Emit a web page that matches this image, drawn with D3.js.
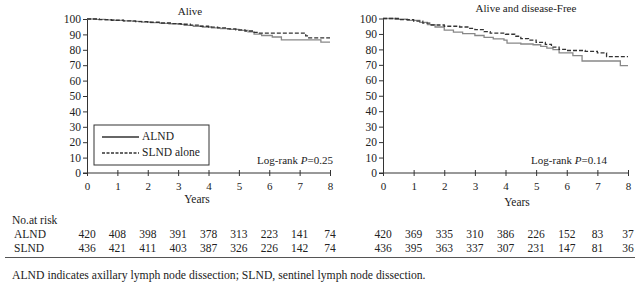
<!DOCTYPE html>
<html>
<head>
<meta charset="utf-8">
<script src="https://cdn.jsdelivr.net/npm/d3@7"></script>
<style>
  body { margin: 0; background: #fff; }
  svg text { font-family: "Liberation Serif", "DejaVu Serif", serif; fill: #222; }
</style>
</head>
<body>
<div id="chart"></div>
<script>
let svgWidth = 640;
let svgHeight = 284;

// years axis
let yearTicks = [0, 1, 2, 3, 4, 5, 6, 7, 8];
let pctTicks = [0, 10, 20, 30, 40, 50, 60, 70, 80, 90, 100];

// Kaplan-Meier steps: [year, percent]
let aliveALND = [[0, 100], [0.3, 99.7], [0.6, 99.4], [0.9, 99.1], [1.2, 98.8], [1.5, 98.4], [1.8, 98], [2.1, 97.6],
    [2.4, 97.2], [2.7, 96.9], [3.0, 96.5], [3.2, 95.8], [3.5, 95.3], [3.8, 94.8], [4.1, 94.3], [4.4, 93.8],
    [4.7, 93.3], [5.0, 92.6], [5.3, 91.7], [5.5, 90.2], [5.75, 89.3], [6.1, 88.3], [6.4, 86.5], [7.7, 85], [8, 85]];
let aliveSLND = [[0, 100], [0.4, 99.6], [0.8, 99.2], [1.2, 98.8], [1.6, 98.3], [2.0, 97.9], [2.4, 97.4], [2.8, 97],
    [3.1, 96.6], [3.4, 96], [3.7, 95.3], [4.0, 94.7], [4.3, 94.2], [4.6, 93.6], [4.9, 93], [5.2, 92.2],
    [5.5, 91.3], [5.6, 90.8], [7.2, 89], [7.3, 87.8], [8, 87.8]];
let dfsALND = [[0, 100], [0.4, 99.5], [0.8, 98.8], [1.2, 97.5], [1.45, 96], [1.7, 94.5], [2.0, 92.5], [2.3, 91.2],
    [2.6, 90.2], [3.0, 89], [3.3, 87.8], [3.6, 86.8], [3.95, 86], [4.05, 84], [4.5, 83.5], [4.9, 83],
    [5.15, 82], [5.35, 80.8], [5.55, 79.8], [5.75, 77.8], [6.2, 76], [6.5, 72.5], [7.75, 69.5], [8, 69.5]];
let dfsSLND = [[0, 100], [0.5, 99.3], [1.0, 98.3], [1.3, 97], [1.55, 95.8], [2.0, 95], [2.5, 94.5], [2.8, 93.6],
    [3.0, 92.8], [3.3, 91.5], [3.5, 90.5], [4.0, 89.8], [4.3, 88.5], [4.5, 87], [4.75, 86], [5.0, 84.5],
    [5.3, 83.3], [5.5, 81.5], [5.75, 80], [6.0, 79.3], [6.6, 78.7], [7.0, 77.7], [7.3, 75.3], [8, 75.3]];

// numbers at risk
let riskAliveALND = [420, 408, 398, 391, 378, 313, 223, 141, 74];
let riskAliveSLND = [436, 421, 411, 403, 387, 326, 226, 142, 74];
let riskDfsALND = [420, 369, 335, 310, 386, 226, 152, 83, 37];
let riskDfsSLND = [436, 395, 363, 337, 307, 231, 147, 81, 36];

let svg = d3.select("#chart")
    .append("svg")
    .attr("width", svgWidth)
    .attr("height", svgHeight);

function drawPanel(opt) {
    let x = d3.scaleLinear().domain([0, 8]).range([opt.left, opt.right]);
    let y = d3.scaleLinear().domain([0, 100]).range([173, opt.top]);

    let line = d3.line()
        .x(d => x(d[0]))
        .y(d => y(d[1]))
        .curve(d3.curveStepAfter);

    // x axis with crossing ticks
    let xAxis = svg.append("g")
        .attr("transform", `translate(0, ${y(0)})`)
        .call(d3.axisBottom(x).tickValues(yearTicks).tickSize(3).tickSizeOuter(0).tickPadding(6));
    xAxis.selectAll(".tick line").attr("y1", -3).attr("y2", 3);
    xAxis.selectAll("text").attr("font-size", "11px");
    xAxis.select(".domain").attr("d", `M${x(0) - 4},0H${x(8)}`);

    let yAxis = svg.append("g")
        .attr("transform", `translate(${x(0)}, 0)`)
        .call(d3.axisLeft(y).tickValues(pctTicks).tickSize(4).tickSizeOuter(0).tickPadding(2));
    yAxis.selectAll("text").attr("font-size", "11.5px");

    svg.selectAll(".domain, .tick line").attr("stroke", "#333");

    svg.append("path")
        .datum(opt.alnd)
        .attr("fill", "none")
        .attr("stroke", "#888")
        .attr("stroke-width", 1.3)
        .attr("d", line);

    svg.append("path")
        .datum(opt.slnd)
        .attr("fill", "none")
        .attr("stroke", "#333")
        .attr("stroke-width", 1.3)
        .attr("stroke-dasharray", "4,2")
        .attr("d", line);

    svg.append("text")
        .attr("x", opt.titleX)
        .attr("y", opt.titleY)
        .attr("text-anchor", "middle")
        .attr("dominant-baseline", "middle")
        .attr("font-size", "11px")
        .text(opt.title);

    svg.append("text")
        .attr("x", opt.yearsX)
        .attr("y", opt.yearsY)
        .attr("text-anchor", "middle")
        .attr("dominant-baseline", "middle")
        .attr("font-size", "11.5px")
        .text("Years");

    let lr = svg.append("text")
        .attr("x", opt.pX)
        .attr("y", 161)
        .attr("text-anchor", "end")
        .attr("dominant-baseline", "middle")
        .attr("font-size", "11px");
    lr.append("tspan").text("Log-rank ");
    lr.append("tspan").attr("font-style", "italic").text("P");
    lr.append("tspan").text("=" + opt.p);

    // numbers at risk
    [[opt.riskA, 235], [opt.riskS, 249]].forEach(function (row) {
        svg.selectAll(null).data(row[0]).enter().append("text")
            .attr("x", (d, i) => x(yearTicks[i]))
            .attr("y", row[1])
            .attr("text-anchor", "middle")
            .attr("dominant-baseline", "middle")
            .attr("font-size", "11.5px")
            .text(d => d);
    });
    return x;
}

drawPanel({
    left: 87, right: 330, top: 19,
    alnd: aliveALND, slnd: aliveSLND,
    title: "Alive", titleX: 190, titleY: 12,
    yearsX: 197, yearsY: 200,
    pX: 333, p: "0.25",
    riskA: riskAliveALND, riskS: riskAliveSLND
});

drawPanel({
    left: 383, right: 628, top: 18.5,
    alnd: dfsALND, slnd: dfsSLND,
    title: "Alive and disease-Free", titleX: 526, titleY: 9,
    yearsX: 517, yearsY: 203,
    pX: 607, p: "0.14",
    riskA: riskDfsALND, riskS: riskDfsSLND
});

// legend
let legend = svg.append("g");
legend.append("rect")
    .attr("x", 94).attr("y", 125)
    .attr("width", 115).attr("height", 40)
    .attr("fill", "#fff")
    .attr("stroke", "#333");
legend.append("line")
    .attr("x1", 102).attr("x2", 139).attr("y1", 137).attr("y2", 137)
    .attr("stroke", "#333").attr("stroke-width", 1.3);
legend.append("line")
    .attr("x1", 102).attr("x2", 139).attr("y1", 153).attr("y2", 153)
    .attr("stroke", "#333").attr("stroke-width", 1.3).attr("stroke-dasharray", "3,1.5");
legend.append("text").attr("x", 142).attr("y", 137)
    .attr("dominant-baseline", "middle").attr("font-size", "11.5px").text("ALND");
legend.append("text").attr("x", 142).attr("y", 153)
    .attr("dominant-baseline", "middle").attr("font-size", "11.5px").text("SLND alone");

// risk table labels
svg.append("text").attr("x", 12).attr("y", 221.5)
    .attr("dominant-baseline", "middle").attr("font-size", "11.5px").text("No.at risk");
svg.append("text").attr("x", 14).attr("y", 235.5)
    .attr("dominant-baseline", "middle").attr("font-size", "11.5px").text("ALND");
svg.append("text").attr("x", 14).attr("y", 249)
    .attr("dominant-baseline", "middle").attr("font-size", "11.5px").text("SLND");

svg.append("line")
    .attr("x1", 5).attr("x2", 635).attr("y1", 257.5).attr("y2", 257.5)
    .attr("stroke", "#555");

svg.append("text").attr("x", 12).attr("y", 276)
    .attr("dominant-baseline", "middle").attr("font-size", "11.7px")
    .text("ALND indicates axillary lymph node dissection; SLND, sentinel lymph node dissection.");
</script>
</body>
</html>
